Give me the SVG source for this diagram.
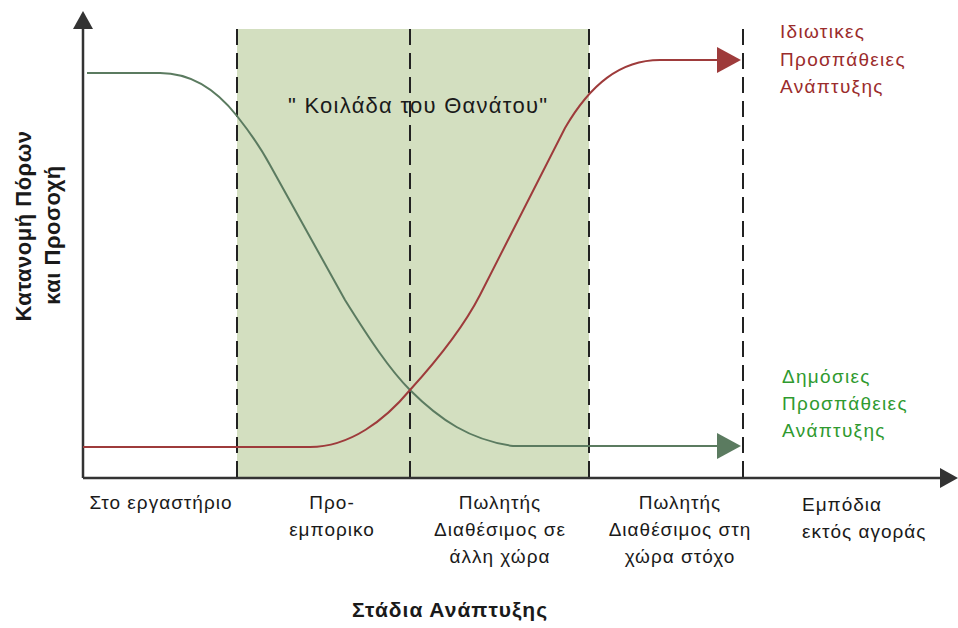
<svg xmlns="http://www.w3.org/2000/svg" width="958" height="628" viewBox="0 0 958 628">
<style>
.t{font-family:"Liberation Sans",Arial,sans-serif;font-size:19px;letter-spacing:1px;fill:#1a1a1a}
.c{text-anchor:middle}
.lbl{font-size:19px;letter-spacing:1.3px}
.dash{stroke:#222;stroke-width:2;stroke-dasharray:16 8;fill:none}
.ax{stroke:#333;stroke-width:2.5;fill:none}
.red{fill:#9b2c2c}
.grn{fill:#2f9a2f}
.bold{font-weight:bold}
</style>
<rect width="958" height="628" fill="#fff"/>
<rect id="valley" x="237" y="29" width="352" height="449" fill="#d3dfc0"/>
<g id="gridlines">
<line class="dash" x1="237" y1="29" x2="237" y2="478"/>
<line class="dash" x1="410" y1="29" x2="410" y2="478"/>
<line class="dash" x1="589" y1="29" x2="589" y2="478"/>
<line class="dash" x1="743" y1="29" x2="743" y2="478"/>
</g>
<g id="axes">
<line class="ax" x1="83" y1="478" x2="83" y2="26"/>
<polygon points="83,11 73,29 93,29" fill="#333"/>
<line class="ax" x1="83" y1="478" x2="942" y2="478"/>
<polygon points="958,478 940,468 940,488" fill="#333"/>
</g>
<g id="connectors">
<path d="M87,73 L160,73 C190,73 215,88 237,116 C252,135 262,150 270,165 L345,300 C370,340 390,370 410,390 C440,420 470,440 513,446 L720,446" fill="none" stroke="#5b7b60" stroke-width="2"/>
<polygon points="717,433 741,446 717,459" fill="#5b7b60"/>
<path d="M83,447 L310,447 C350,447 385,420 410,390 C430,368 462,330 480,295 L565,128 C590,85 620,60 660,60 L720,60" fill="none" stroke="#9e3b3b" stroke-width="2"/>
<polygon points="717,47 741,60 717,73" fill="#9e3b3b"/>
</g>
<g id="valley-label"><text class="t" x="288" y="113" style="font-size:22px;letter-spacing:0" textLength="259" lengthAdjust="spacing">" Κοιλάδα του Θανάτου"</text></g>
<g id="private-label">
<text class="t lbl red" x="780" y="38">Ιδιωτικες</text>
<text class="t lbl red" x="780" y="66">Προσπάθειες</text>
<text class="t lbl red" x="780" y="93">Ανάπτυξης</text>
</g>
<g id="public-label">
<text class="t lbl grn" x="782" y="383">Δημόσιες</text>
<text class="t lbl grn" x="782" y="410">Προσπάθειες</text>
<text class="t lbl grn" x="782" y="437">Ανάπτυξης</text>
</g>
<g id="stage1"><text class="t c" x="161" y="509">Στο εργαστήριο</text></g>
<g id="stage2"><text class="t c" x="332" y="509">Προ-</text><text class="t c" x="332" y="536">εμπορικο</text></g>
<g id="stage3"><text class="t c" x="500" y="509">Πωλητής</text><text class="t c" x="500" y="536">Διαθέσιμος σε</text><text class="t c" x="500" y="563">άλλη χώρα</text></g>
<g id="stage4"><text class="t c" x="680" y="509">Πωλητής</text><text class="t c" x="680" y="536">Διαθέσιμος στη</text><text class="t c" x="680" y="563">χώρα στόχο</text></g>
<g id="stage5"><text class="t" x="802" y="511">Εμπόδια</text><text class="t" x="802" y="538">εκτός αγοράς</text></g>
<g id="x-title"><text class="t c bold" x="450" y="617" style="font-size:21px;letter-spacing:1px">Στάδια Ανάπτυξης</text></g>
<g id="y-title" transform="translate(31,226) rotate(-90)">
<text class="t c bold" x="0" y="0" style="font-size:22px;letter-spacing:0.5px">Κατανομή Πόρων</text>
<text class="t c bold" x="-9" y="29" style="font-size:22px;letter-spacing:0.5px">και Προσοχή</text>
</g>
</svg>
